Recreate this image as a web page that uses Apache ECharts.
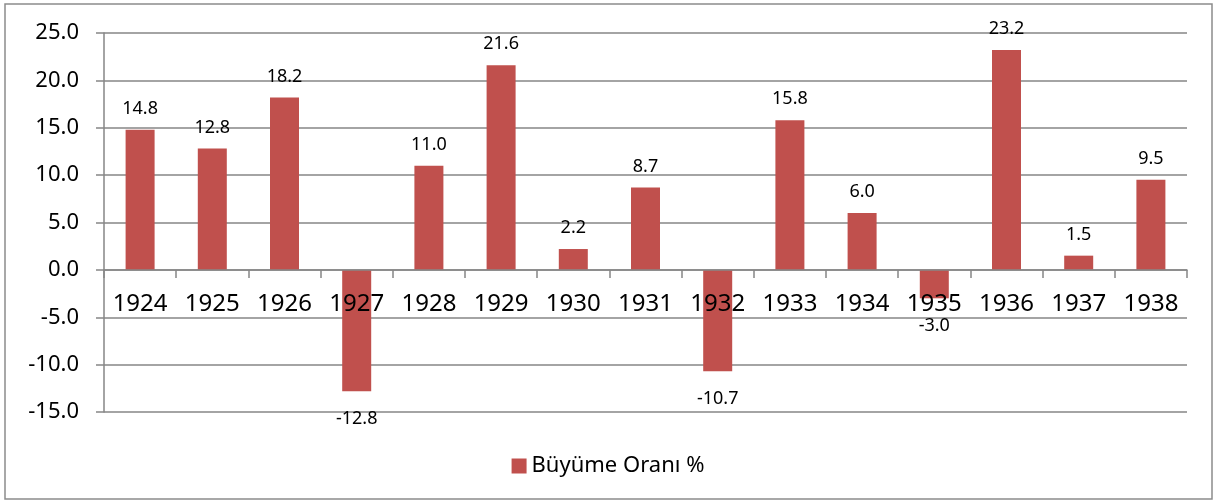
<!DOCTYPE html>
<html>
<head>
<meta charset="utf-8">
<script src="https://cdn.jsdelivr.net/npm/echarts@6/dist/echarts.min.js"></script>
<style>
html,body{margin:0;padding:0;background:#fff;}
#c{width:1216px;height:504px;}
</style>
</head>
<body>
<div id="c"></div>
<script>
const categories = ['1924','1925','1926','1927','1928','1929','1930','1931','1932','1933','1934','1935','1936','1937','1938'];
const growth = [14.8, 12.8, 18.2, -12.8, 11.0, 21.6, 2.2, 8.7, -10.7, 15.8, 6.0, -3.0, 23.2, 1.5, 9.5];
const seriesName = 'Büyüme Oranı %';
const yMin = -15, yMax = 25, yStep = 5;

const chart = echarts.init(document.getElementById('c'));
const FONT = 'Noto Sans';
const GRID = {left: 104, right: 29, top: 33, bottom: 92};
const plotH = 504 - GRID.top - GRID.bottom;
const zeroOffset = -((0 - yMin) / (yMax - yMin)) * plotH;

const barData = growth.map(v => ({
  value: v,
  label: v < 0 ? {position: 'bottom', distance: 19} : {position: 'top', distance: 12}
}));

chart.setOption({
  animation: false,
  backgroundColor: '#fff',
  graphic: [{
    type: 'rect',
    shape: {x: 5, y: 4, width: 1207, height: 495},
    style: {fill: 'none', stroke: '#8c8c8c', lineWidth: 1.5},
    silent: true
  }],
  grid: Object.assign({containLabel: false}, GRID),
  legend: {
    bottom: 22,
    left: 'center',
    itemWidth: 15,
    itemHeight: 15,
    itemGap: 8,
    icon: 'rect',
    textStyle: {fontFamily: FONT, fontSize: 22, color: '#000'},
    data: [seriesName]
  },
  xAxis: {
    type: 'category',
    data: categories,
    position: 'bottom',
    offset: zeroOffset,
    z: 10,
    axisLine: {onZero: false, lineStyle: {color: '#868686', width: 1.5}},
    axisTick: {show: true, length: 8, lineStyle: {color: '#868686', width: 1.5}},
    axisLabel: {fontFamily: FONT, fontSize: 24, color: '#000', margin: 22, interval: 0},
    splitLine: {show: false}
  },
  yAxis: {
    type: 'value',
    min: yMin,
    max: yMax,
    interval: yStep,
    axisLine: {show: true, lineStyle: {color: '#868686', width: 1.5}},
    axisTick: {show: true, length: 8, lineStyle: {color: '#868686', width: 1.5}},
    axisLabel: {fontFamily: FONT, fontSize: 22, color: '#000', margin: 25,
      formatter: v => v.toFixed(1)},
    splitLine: {show: true, lineStyle: {color: '#868686', width: 1.5}}
  },
  series: [{
    name: seriesName,
    type: 'bar',
    data: barData,
    barWidth: 29,
    z: 3,
    itemStyle: {color: '#C0504D'},
    label: {
      show: true,
      fontFamily: FONT,
      fontSize: 18,
      color: '#000',
      formatter: p => p.value.toFixed(1)
    }
  }]
});
</script>
</body>
</html>
